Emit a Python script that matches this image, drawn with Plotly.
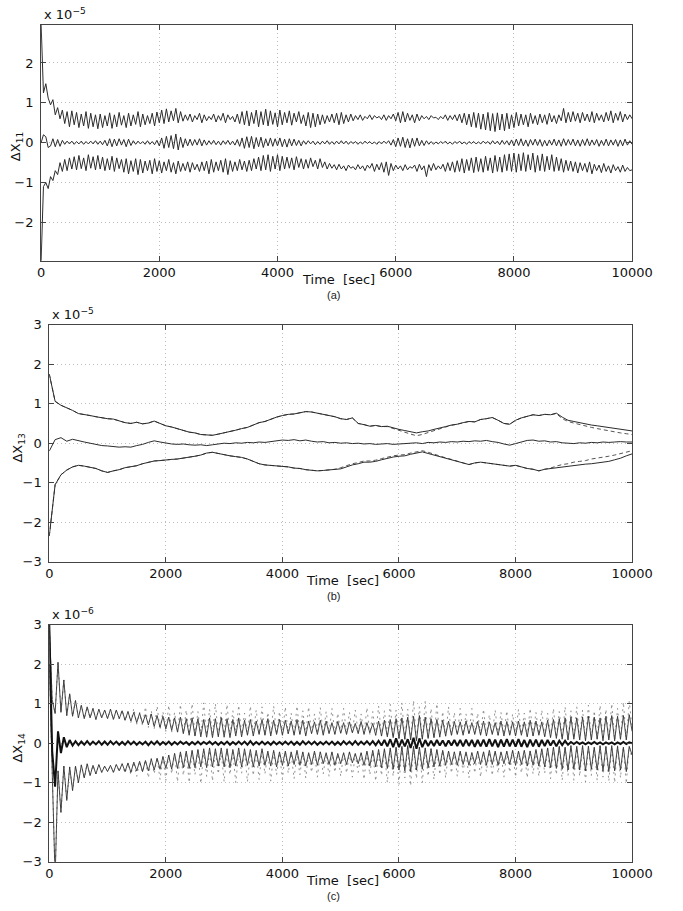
import numpy as np
import plotly.graph_objects as go

W, H = 683, 911

# ---------------- data (integers; 100 = one axis unit) ----------------
SCALE = 0.01
STEP_A = 40    # seconds between samples, panel (a)
STEP_B = 100   # panel (b)
STEP_C = 50    # panel (c)

# panel (a): Delta X11, units 1e-7 (axis shows x 10^-5)
upper_a = [
    300, 125, 148, 112, 95, 108, 70, 88, 60, 82, 48, 78, 40, 80, 45, 76, 38, 72, 42, 78, 36, 74, 40, 70, 35,
    72, 38, 68, 42, 75, 36, 70, 40, 76, 44, 68, 38, 74, 42, 70, 46, 78, 40, 72, 45, 68, 48, 74, 42, 77,
    50, 82, 48, 85, 52, 80, 55, 86, 50, 78, 54, 70, 56, 72, 52, 68, 58, 74, 50, 70, 55, 66, 58, 72, 52,
    68, 56, 74, 50, 70, 58, 66, 52, 72, 48, 78, 45, 80, 42, 76, 48, 82, 40, 78, 45, 84, 42, 80, 46, 75,
    40, 82, 45, 76, 50, 80, 44, 74, 52, 78, 48, 70, 42, 76, 38, 74, 40, 72, 45, 70, 48, 68, 52, 72, 50,
    74, 45, 76, 48, 70, 52, 72, 55, 68, 58, 70, 56, 66, 60, 70, 58, 68, 62, 66, 58, 70, 56, 68, 60, 72,
    55, 76, 50, 78, 52, 74, 56, 70, 50, 72, 55, 68, 60, 66, 58, 68, 62, 64, 58, 66, 60, 70, 56, 68, 58,
    70, 55, 72, 50, 74, 45, 72, 40, 76, 38, 74, 34, 72, 32, 76, 30, 73, 28, 75, 32, 72, 30, 74, 35, 70,
    38, 76, 42, 72, 45, 70, 40, 74, 48, 68, 45, 72, 50, 70, 46, 74, 52, 68, 48, 70, 55, 86, 50, 76, 52,
    78, 54, 74, 50, 76, 55, 72, 52, 78, 50, 74, 56, 70, 52, 76, 55, 80, 50, 74, 56, 78, 52, 72, 58, 70,
    60,
]
middle_a = [
    0, 20, 15, -12, -8, 10, -10, 8, -9, 6, -4, 4, -3, 4, -4, 3, -3, 4, -4, 3, -3, 4, -3, 5, -4,
    4, -5, 6, -8, 10, -10, 9, -8, 10, -6, 8, -10, 9, -7, 5, -4, 4, -3, 3, -4, 5, -4, 3, -5, 6,
    -8, 12, -14, 16, -12, 18, -15, 22, -18, 14, -12, 10, -8, 9, -7, 8, -6, 10, -8, 7, -6, 5, -4, 6, -5,
    4, -6, 5, -4, 6, -5, 4, -6, 8, -9, 12, -14, 15, -12, 16, -15, 13, -10, 14, -12, 10, -8, 12, -9, 10,
    -8, 12, -10, 9, -11, 10, -8, 9, -7, 6, -8, 5, -4, 5, -3, 4, -5, 3, -4, 4, -3, 5, -4, 3, -4,
    4, -3, 5, -3, 4, -4, 3, -2, 3, -4, 2, -3, 4, -2, 3, -3, 2, -4, 3, -3, 4, -2, 5, -6, 8,
    -10, 12, -9, 14, -12, 10, -13, 11, -9, 12, -8, 6, -7, 5, -4, 3, -4, 2, -3, 3, -2, 4, -3, 2, -4,
    3, -2, 4, -3, 2, -4, 3, -2, 3, -3, 2, -3, 4, -2, 3, -4, 5, -3, 4, -5, 6, -4, 5, -6, 7,
    -8, 9, -7, 10, -8, 7, -9, 8, -6, 9, -7, 8, -9, 6, -8, 7, -6, 9, -8, 7, -9, 10, -7, 8, -6,
    9, -8, 7, -9, 8, -7, 10, -8, 7, -6, 8, -9, 6, -7, 9, -8, 7, -6, 8, -9, 7, -8, 9, -6, 5,
    -4,
]
lower_a = [
    -300, -110, -100, -115, -85, -95, -70, -80, -50, -72, -42, -70, -38, -66, -35, -68, -32, -65, -38, -70, -30, -64, -35, -68, -32,
    -66, -36, -70, -40, -68, -34, -72, -38, -65, -42, -74, -40, -78, -45, -72, -40, -80, -42, -76, -46, -70, -44, -78, -40, -72,
    -45, -76, -48, -70, -42, -74, -50, -78, -46, -72, -52, -70, -48, -74, -50, -68, -54, -72, -48, -70, -46, -78, -42, -74, -48,
    -70, -44, -74, -40, -80, -45, -72, -48, -70, -42, -68, -46, -72, -44, -70, -40, -66, -36, -70, -32, -68, -30, -72, -34, -66,
    -30, -70, -34, -66, -36, -64, -38, -68, -35, -62, -40, -66, -42, -64, -38, -60, -44, -66, -40, -62, -48, -66, -52, -64, -55,
    -68, -54, -66, -58, -70, -56, -64, -60, -68, -55, -66, -58, -70, -56, -64, -52, -72, -54, -68, -50, -74, -48, -82, -52, -70,
    -56, -66, -58, -70, -55, -68, -60, -64, -56, -72, -54, -68, -58, -85, -55, -70, -52, -68, -58, -66, -54, -72, -50, -70, -48,
    -74, -45, -72, -40, -76, -42, -70, -38, -75, -36, -72, -40, -74, -34, -70, -38, -76, -32, -72, -36, -74, -30, -70, -28, -72,
    -26, -74, -28, -70, -25, -72, -30, -68, -26, -74, -32, -70, -28, -72, -34, -68, -30, -72, -36, -70, -40, -74, -44, -70, -46,
    -72, -48, -76, -50, -70, -52, -74, -48, -78, -54, -70, -56, -75, -52, -72, -58, -76, -55, -70, -60, -74, -56, -72, -62, -70,
    -68,
]

# panel (b): Delta X13, units 1e-7 (axis shows x 10^-5)
upper_b = [
    175, 106, 96, 90, 83, 75, 73, 70, 67, 64,
    62, 61, 57, 52, 50, 53, 49, 51, 56, 50,
    44, 41, 36, 33, 28, 26, 22, 21, 20, 23,
    26, 30, 33, 37, 40, 46, 52, 55, 61, 66,
    70, 73, 74, 77, 80, 79, 76, 73, 70, 67,
    62, 60, 64, 50, 47, 43, 45, 42, 43, 38,
    35, 32, 29, 26, 29, 31, 35, 38, 42, 46,
    48, 52, 55, 54, 60, 62, 65, 58, 50, 48,
    58, 64, 68, 72, 70, 73, 72, 76, 66, 58,
    55, 52, 48, 46, 44, 42, 40, 37, 35, 33,
    31,
]
upper_b_dash = [
    175, 106, 96, 90, 83, 75, 73, 70, 67, 64,
    62, 61, 57, 52, 50, 53, 49, 51, 56, 50,
    44, 41, 36, 33, 28, 26, 22, 21, 20, 23,
    26, 30, 33, 37, 40, 46, 52, 55, 61, 66,
    70, 73, 74, 77, 80, 79, 76, 73, 70, 67,
    62, 60, 64, 50, 47, 43, 45, 42, 42, 37,
    33, 28, 23, 19, 22, 27, 32, 36, 41, 45,
    48, 52, 55, 54, 60, 62, 65, 58, 50, 48,
    58, 64, 68, 72, 70, 73, 72, 75, 62, 55,
    51, 47, 43, 40, 37, 34, 31, 28, 26, 24,
    22,
]
middle_b = [
    -20, 9, 14, 5, 10, 6, 3, 0, -3, -6,
    -7, -8, -10, -9, -10, -6, -3, 2, 6, 3,
    0, -2, -3, -2, -4, -5, -4, -6, -4, -2,
    0, -1, 1, 0, 2, 1, 3, 2, 4, 6,
    8, 7, 9, 6, 8, 5, 3, 4, 1, 2,
    0, 1, -1, 0, -2, -1, -3, -2, -1, -3,
    -2, -1, 0, 1, -1, 2, 1, 3, 2, 4,
    3, 5, 4, 6, 5, 7, 4, 2, -2, -5,
    -1, 3, 7, 8, 5, 6, 3, 4, 1, 0,
    -1, 1, 0, 2, 1, 3, 2, 3, 4, 3,
    3,
]
lower_b = [
    -235, -105, -80, -68, -60, -56, -58, -61, -64, -70,
    -74, -70, -67, -62, -60, -57, -52, -49, -45, -44,
    -42, -41, -40, -38, -36, -33, -30, -25, -23, -26,
    -30, -32, -34, -36, -40, -46, -52, -55, -56, -58,
    -58, -60, -63, -64, -67, -68, -70, -69, -68, -66,
    -65, -60, -55, -52, -48, -48, -46, -42, -38, -35,
    -33, -32, -28, -25, -22, -26, -30, -34, -38, -42,
    -46, -50, -54, -50, -48, -50, -52, -54, -55, -58,
    -56, -60, -64, -66, -70, -66, -64, -62, -60, -58,
    -56, -55, -53, -52, -50, -48, -46, -42, -38, -32,
    -27,
]
lower_b_dash = [
    -235, -105, -80, -68, -60, -56, -58, -61, -64, -70,
    -74, -70, -67, -62, -60, -57, -52, -49, -45, -44,
    -42, -41, -40, -38, -36, -33, -30, -25, -23, -26,
    -30, -32, -34, -36, -40, -46, -52, -55, -56, -58,
    -58, -60, -63, -64, -67, -68, -70, -69, -68, -66,
    -62, -57, -52, -49, -45, -45, -43, -39, -35, -32,
    -30, -29, -25, -22, -19, -23, -28, -32, -37, -41,
    -46, -50, -54, -50, -48, -50, -52, -54, -55, -58,
    -56, -60, -64, -66, -70, -66, -63, -58, -54, -52,
    -48, -46, -44, -40, -38, -36, -33, -30, -26, -22,
    -19,
]

# panel (c): Delta X14, units 1e-8 (axis shows x 10^-6)
upper_c = [
    300, 110, 75, 205, 78, 160, 70, 125, 68, 108, 64, 96, 62, 92, 64, 88, 60, 86, 64, 84,
    62, 86, 60, 84, 62, 82, 58, 80, 56, 78, 52, 76, 50, 72, 46, 74, 42, 70, 40, 68,
    36, 66, 32, 64, 28, 66, 24, 62, 20, 64, 18, 62, 16, 60, 15, 64, 14, 62, 16, 65,
    15, 62, 14, 60, 18, 64, 16, 58, 20, 60, 18, 56, 22, 60, 20, 62, 18, 58, 22, 60,
    20, 58, 24, 56, 20, 60, 22, 58, 18, 56, 24, 54, 22, 58, 20, 56, 24, 52, 22, 55,
    25, 52, 22, 54, 26, 50, 24, 55, 22, 52, 26, 50, 20, 56, 18, 58, 16, 60, 14, 62,
    12, 64, 10, 66, 8, 68, 6, 70, 10, 66, 12, 62, 14, 60, 16, 58, 18, 56, 20, 55,
    22, 54, 20, 56, 24, 52, 22, 55, 20, 56, 18, 54, 22, 52, 20, 56, 18, 55, 20, 54,
    18, 56, 20, 54, 16, 58, 18, 56, 20, 54, 16, 58, 14, 60, 12, 62, 10, 64, 8, 66,
    10, 64, 8, 66, 6, 68, 8, 66, 10, 64, 6, 68, 8, 70, 6, 68, 10, 70, 8, 72,
    30,
]
upper_c_dash = [
    300, 110, 75, 205, 78, 160, 70, 125, 68, 108, 64, 96, 62, 92, 64, 88, 60, 86, 64, 84,
    62, 86, 60, 84, 62, 84, 56, 80, 52, 88, 48, 78, 44, 92, 40, 82, 36, 94, 34, 80,
    30, 96, 28, 78, 26, 98, 24, 84, 22, 100, 20, 80, 22, 102, 20, 86, 18, 100, 20, 78,
    22, 98, 20, 82, 24, 96, 22, 76, 20, 94, 24, 84, 22, 92, 20, 78, 24, 94, 22, 80,
    24, 92, 22, 76, 20, 94, 24, 82, 22, 92, 26, 74, 24, 90, 22, 80, 26, 88, 24, 76,
    26, 88, 24, 78, 28, 84, 26, 74, 24, 90, 22, 80, 20, 94, 18, 82, 16, 98, 14, 84,
    12, 102, 10, 86, 8, 108, 6, 92, 8, 106, 10, 88, 12, 100, 14, 80, 16, 92, 18, 78,
    20, 88, 22, 74, 20, 88, 24, 76, 22, 86, 20, 72, 22, 84, 20, 78, 22, 82, 20, 74,
    20, 86, 22, 76, 18, 88, 20, 78, 22, 84, 18, 76, 16, 88, 14, 80, 12, 92, 10, 82,
    12, 92, 10, 84, 8, 96, 10, 82, 12, 96, 8, 86, 10, 100, 8, 88, 10, 104, 8, 106,
    40,
]
middle_c = [
    300, -20, -110, 30, -25, 15, -10, 8, -6, 5, -5, 4, -4, 5, -4, 4, -3, 5, -4, 4,
    -4, 5, -3, 4, -4, 3, -4, 5, -3, 4, -4, 3, -3, 4, -5, 4, -3, 5, -4, 3,
    -3, 4, -4, 3, -3, 4, -2, 3, -4, 3, -3, 4, -3, 3, -2, 4, -3, 3, -4, 3,
    -3, 4, -4, 3, -3, 4, -3, 4, -4, 5, -4, 3, -3, 4, -3, 3, -4, 4, -3, 3,
    -3, 4, -3, 4, -4, 3, -4, 5, -3, 4, -3, 4, -4, 3, -3, 4, -3, 4, -4, 3,
    -4, 5, -3, 4, -4, 5, -4, 4, -3, 5, -4, 5, -5, 6, -6, 8, -8, 10, -10, 12,
    -10, 9, -8, 10, -12, 14, -14, 12, -10, 8, -7, 6, -7, 8, -6, 7, -8, 7, -6, 8,
    -7, 8, -8, 9, -7, 8, -9, 8, -8, 9, -9, 10, -8, 9, -10, 9, -9, 10, -8, 9,
    -9, 10, -9, 8, -10, 9, -8, 9, -9, 8, -7, 8, -6, 7, -8, 6, -5, 6, -4, 3,
    -2, 3, -2, 2, -3, 2, -2, 3, -2, 2, -3, 2, -2, 2, -3, 2, -2, 3, -2, 2,
    0,
]
lower_c = [
    200, -100, -340, -70, -175, -58, -145, -60, -120, -58, -100, -55, -88, -52, -82, -56, -78, -54, -74, -58,
    -72, -56, -74, -54, -70, -52, -72, -50, -74, -48, -70, -46, -72, -44, -70, -40, -68, -38, -66, -34,
    -64, -30, -66, -26, -64, -22, -62, -20, -64, -18, -62, -16, -60, -14, -62, -12, -60, -14, -58, -12,
    -60, -14, -62, -16, -58, -12, -60, -14, -56, -16, -60, -18, -58, -14, -56, -20, -58, -18, -60, -22,
    -56, -20, -58, -22, -54, -18, -56, -22, -58, -24, -54, -20, -56, -22, -52, -24, -54, -22, -56, -26,
    -52, -24, -54, -22, -50, -26, -52, -24, -56, -20, -58, -18, -60, -16, -62, -14, -64, -12, -66, -10,
    -68, -8, -70, -6, -72, -8, -68, -10, -66, -12, -62, -14, -60, -16, -58, -18, -56, -20, -54, -22,
    -56, -20, -54, -22, -56, -24, -52, -20, -54, -22, -56, -18, -54, -20, -56, -22, -52, -20, -54, -18,
    -56, -20, -54, -18, -58, -20, -56, -16, -58, -14, -60, -12, -62, -10, -64, -8, -66, -10, -68, -6,
    -66, -8, -68, -6, -70, -8, -66, -10, -68, -6, -70, -8, -72, -6, -70, -8, -68, -10, -72, -8,
    -30,
]
lower_c_dash = [
    200, -100, -340, -70, -175, -58, -145, -60, -120, -58, -100, -55, -88, -52, -82, -56, -78, -54, -74, -58,
    -72, -56, -74, -54, -72, -52, -76, -50, -80, -48, -84, -46, -74, -42, -88, -38, -78, -36, -92, -34,
    -94, -30, -78, -26, -98, -24, -82, -22, -100, -20, -80, -18, -102, -20, -84, -18, -96, -20, -78, -22,
    -98, -20, -80, -24, -100, -22, -76, -20, -98, -24, -82, -22, -92, -20, -78, -24, -96, -22, -80, -24,
    -92, -22, -76, -26, -90, -24, -80, -22, -88, -26, -74, -24, -86, -22, -78, -26, -84, -24, -74, -28,
    -84, -26, -76, -24, -86, -28, -74, -26, -92, -24, -80, -22, -96, -20, -82, -18, -100, -16, -84, -14,
    -104, -12, -88, -10, -108, -8, -90, -10, -100, -12, -84, -14, -92, -16, -80, -18, -88, -20, -76, -22,
    -84, -20, -74, -22, -88, -24, -76, -22, -86, -20, -72, -22, -82, -20, -76, -24, -86, -22, -74, -20,
    -86, -22, -76, -20, -88, -18, -78, -20, -84, -16, -76, -14, -90, -12, -80, -10, -94, -12, -82, -10,
    -94, -12, -84, -10, -98, -8, -82, -10, -94, -8, -86, -10, -96, -8, -100, -6, -88, -10, -102, -8,
    -40,
]

x_ticks = [0, 2000, 4000, 6000, 8000, 10000]
x_tick_labels = ["0", "2000", "4000", "6000", "8000", "10000"]
y_ticks_a = [-2, -1, 0, 1, 2]
y_ticks_bc = [-3, -2, -1, 0, 1, 2, 3]

# ---------------- helpers ----------------
def px(x):
    return x / W

def py(y):
    return 1 - y / H

def series(vals, step):
    t = np.arange(len(vals)) * step
    return t, np.array(vals, dtype=float) * SCALE

TICK_FONT = dict(family="DejaVu Sans", size=13, color="#111")
LINE = "#2b2b2b"

fig = go.Figure()

def add(vals, step, xa, ya, color=LINE, width=1.0, dash="solid"):
    t, y = series(vals, step)
    fig.add_trace(go.Scatter(x=t, y=y, mode="lines", xaxis=xa, yaxis=ya,
                             line=dict(color=color, width=width, dash=dash),
                             showlegend=False, hoverinfo="skip"))

# panel a
add(upper_a, STEP_A, "x", "y")
add(middle_a, STEP_A, "x", "y")
add(lower_a, STEP_A, "x", "y")
# panel b
add(upper_b_dash, STEP_B, "x2", "y2", color="#555", dash="4px,3px")
add(lower_b_dash, STEP_B, "x2", "y2", color="#555", dash="4px,3px")
add(upper_b, STEP_B, "x2", "y2")
add(middle_b, STEP_B, "x2", "y2")
add(lower_b, STEP_B, "x2", "y2")
# panel c
add(upper_c_dash, STEP_C, "x3", "y3", color="#777", width=0.8, dash="2px,4px")
add(lower_c_dash, STEP_C, "x3", "y3", color="#777", width=0.8, dash="2px,4px")
add(upper_c, STEP_C, "x3", "y3", color="#333", width=0.9)
add(lower_c, STEP_C, "x3", "y3", color="#333", width=0.9)
add(middle_c, STEP_C, "x3", "y3", color="#111", width=2.0)

GRID = dict(showgrid=True, gridcolor="#bdbdbd", griddash="1px,3px", gridwidth=1)

def xax(domain, anchor):
    return dict(domain=domain, anchor=anchor, range=[0, 10000],
                tickmode="array", tickvals=x_ticks, ticktext=x_tick_labels,
                ticks="inside", ticklen=5, tickcolor="#444", tickfont=TICK_FONT,
                showline=True, linecolor="#444", linewidth=1, mirror="ticks",
                zeroline=False, **GRID)

def yax(domain, anchor, rng, ticks):
    return dict(domain=domain, anchor=anchor, range=rng,
                tickmode="array", tickvals=ticks,
                ticks="inside", ticklen=5, tickcolor="#444", tickfont=TICK_FONT,
                ticklabelstandoff=4,
                showline=True, linecolor="#444", linewidth=1, mirror="ticks",
                zeroline=False, **GRID)

# pixel geometry of the three panels
A = dict(l=38.5, r=652, t=18, b=258)
B = dict(l=47, r=652, t=323, b=564)
C = dict(l=47, r=652, t=628, b=869)

fig.update_layout(
    width=W, height=H, autosize=False,
    margin=dict(l=0, r=0, t=0, b=0),
    paper_bgcolor="white", plot_bgcolor="white",
    xaxis=xax([px(A["l"]), px(A["r"])], "y"),
    yaxis=yax([py(A["b"]), py(A["t"])], "x", [-2.96, 2.96], y_ticks_a),
    xaxis2=xax([px(B["l"]), px(B["r"])], "y2"),
    yaxis2=yax([py(B["b"]), py(B["t"])], "x2", [-3, 3], y_ticks_bc),
    xaxis3=xax([px(C["l"]), px(C["r"])], "y3"),
    yaxis3=yax([py(C["b"]), py(C["t"])], "x3", [-3, 3], y_ticks_bc),
)

LABEL_FONT = dict(family="DejaVu Sans", size=13, color="#111")
ann = []
for P, exp_txt, ylab, tag in [
    (A, "x 10<sup>−5</sup>", "ΔX<sub>11</sub>", "(a)"),
    (B, "x 10<sup>−5</sup>", "ΔX<sub>13</sub>", "(b)"),
    (C, "x 10<sup>−6</sup>", "ΔX<sub>14</sub>", "(c)"),
]:
    ann.append(dict(x=px(P["l"] + 1), y=py(P["t"] - 1), xref="paper", yref="paper",
                    text=exp_txt, showarrow=False, xanchor="left", yanchor="bottom",
                    font=LABEL_FONT))
    ann.append(dict(x=px((P["l"] + P["r"]) / 2 + 2), y=py(P["b"] + 19), xref="paper", yref="paper",
                    text="Time\u00a0\u00a0[sec]", showarrow=False, xanchor="center", yanchor="middle",
                    font=LABEL_FONT))
    ann.append(dict(x=px(342), y=py(P["b"] + 35), xref="paper", yref="paper",
                    text=tag, showarrow=False, xanchor="center", yanchor="middle",
                    font=dict(family="Liberation Sans", size=11, color="#222")))
    ann.append(dict(x=px(13 if P is A else 15), y=py((P["t"] + P["b"]) / 2 + 4), xref="paper", yref="paper",
                    text=ylab, showarrow=False, textangle=-90, xanchor="center", yanchor="middle",
                    font=dict(family="DejaVu Sans", size=13, color="#111")))
fig.update_layout(annotations=ann)

fig.write_html("out.html")
